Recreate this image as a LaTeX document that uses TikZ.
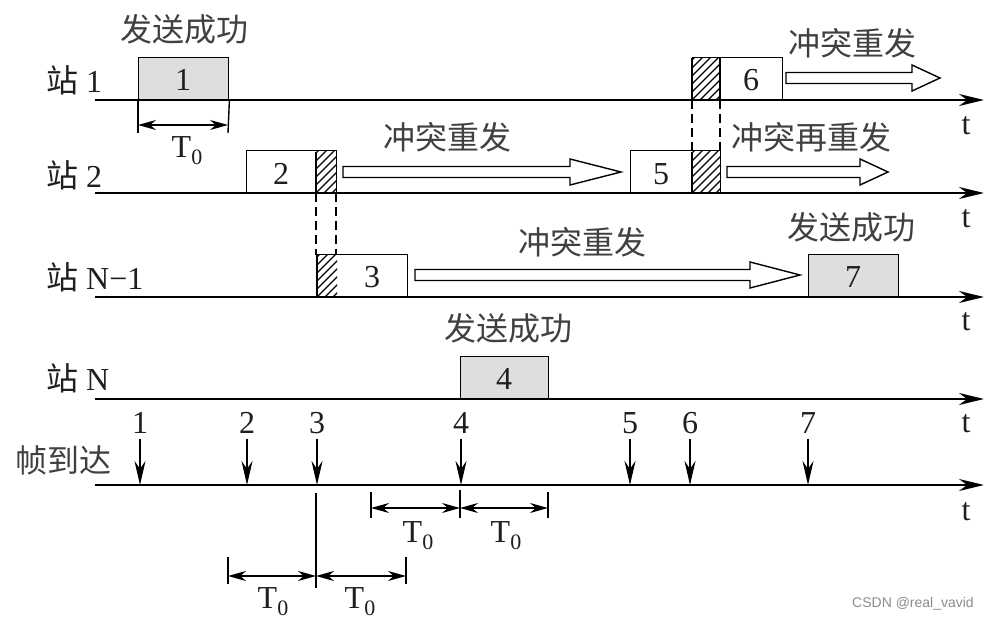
\documentclass[tikz,border=0pt]{standalone}
\usepackage{fontspec}
\setmainfont{Liberation Serif}
\newfontfamily\cjk{Noto Sans CJK SC}
\newfontfamily\wmfont{Liberation Sans}
\usetikzlibrary{arrows.meta}
\newcommand\latfs{\fontsize{32}{34}\selectfont}
\newcommand\cjkfs{\cjk\fontsize{32}{34}\selectfont}
\newcommand\Tz{T{\fontsize{22}{22}\selectfont\raisebox{-7pt}{0}}}
\newcommand\hatchpart[4]{%
  \begin{scope}
    \clip (#1,#3) rectangle (#2,#4);
    \foreach \k in {-48,-40,...,28} \draw[line width=1.2pt] (#1+\k,#4) -- (#1+\k+48,#4-48);
  \end{scope}
  \draw[line width=1.4pt] (#1,#3) -- (#1,#4);}
\newcommand\hollowarr[4]{%
  \draw[line width=1.4pt,fill=white,line join=miter] (#1,#3-5.5) -- (#2-#4,#3-5.5) -- (#2-#4,#3-13) -- (#2,#3) -- (#2-#4,#3+13) -- (#2-#4,#3+5.5) -- (#1,#3+5.5) -- cycle;}
\begin{document}
\begin{tikzpicture}[x=1pt,y=-1pt,
  axis/.style={line width=2.4pt,-{Stealth[length=25pt,width=12pt]}},
  framebox/.style={draw,line width=1.4pt,minimum width=90pt,minimum height=42pt,inner sep=0pt,anchor=south west},
  okbox/.style={framebox,fill=black!13},
  lat/.style={font=\latfs,text=black!88,inner sep=0pt},
  cjklab/.style={font=\cjkfs,text=black!75,inner sep=0pt},
  downarr/.style={line width=1.4pt,-{Stealth[length=24pt,width=11pt]}},
  dimarr/.style={line width=1.4pt,{Stealth[length=18pt,width=10pt]}-{Stealth[length=18pt,width=10pt]}},
  tick/.style={line width=1.4pt},
  dashline/.style={line width=1.4pt,dash pattern=on 9pt off 5pt}
]
\useasboundingbox (0,0) rectangle (994,620);
\fill[white] (0,0) rectangle (994,620);

% ---------- boxes ----------
\node[okbox] (b1) at (138,100) {};
\node[framebox] (b2) at (246,193) {};
\node[framebox] (b3) at (317,297) {};
\node[okbox,minimum width=88pt] (b4) at (460,399) {};
\node[framebox] (b5) at (630,193) {};
\node[framebox] (b6) at (692,100) {};
\node[okbox] (b7) at (808,297) {};

% hatched (collision) parts
\hatchpart{316}{336}{152}{193}
\hatchpart{317}{337}{255}{297}
\hatchpart{692}{720}{152}{193}
\hatchpart{692}{720}{58}{100}
\draw[line width=1.4pt] (720,58) -- (720,100);

% frame numbers
\node[lat] (n1) at (183,80) {1};
\node[lat] (n2) at (281,174) {2};
\node[lat] (n3) at (372,277) {3};
\node[lat] (n4) at (504,379) {4};
\node[lat] (n5) at (661,174) {5};
\node[lat] (n6) at (751,80) {6};
\node[lat] (n7) at (853,277) {7};

% dashed collision marks
\coordinate (d2a) at (316,193); \coordinate (d3a) at (316,255);
\coordinate (d2b) at (336,193); \coordinate (d3b) at (336,255);
\coordinate (d6a) at (692,100); \coordinate (d5a) at (692,152);
\coordinate (d6b) at (720,100); \coordinate (d5b) at (720,152);
\draw[dashline] (d2a) -- (d3a);
\draw[dashline] (d2b) -- (d3b);
\draw[dashline] (d6a) -- (d5a);
\draw[dashline] (d6b) -- (d5b);

% hollow arrows
\hollowarr{786}{940}{78}{28}
\hollowarr{343}{621}{172}{51}
\hollowarr{727}{888}{172}{28}
\hollowarr{415}{800}{275}{50}

% ---------- axes ----------
\coordinate (s1l) at (95,100); \coordinate (s1r) at (984,100);
\coordinate (s2l) at (95,193); \coordinate (s2r) at (984,193);
\coordinate (s3l) at (95,297); \coordinate (s3r) at (984,297);
\coordinate (s4l) at (95,399); \coordinate (s4r) at (984,399);
\coordinate (s5l) at (95,485); \coordinate (s5r) at (984,485);
\draw[axis] (s1l) -- (s1r);
\draw[axis] (s2l) -- (s2r);
\draw[axis] (s3l) -- (s3r);
\draw[axis] (s4l) -- (s4r);
\draw[axis] (s5l) -- (s5r);

% t labels
\node[lat] (t1) at (966,126) {t};
\node[lat] (t2) at (966,219) {t};
\node[lat] (t3) at (966,322) {t};
\node[lat] (t4) at (966,424) {t};
\node[lat] (t5) at (966,512) {t};

% station labels
\node[lat,anchor=west] (st1) at (46,80) {{\cjkfs 站} 1};
\node[lat,anchor=west] (st2) at (46,175) {{\cjkfs 站} 2};
\node[lat,anchor=west] (st3) at (46,277) {{\cjkfs 站} N−1};
\node[lat,anchor=west] (st4) at (46,378) {{\cjkfs 站} N};
\node[cjklab,anchor=west] (arr) at (15,460) {帧到达};

% annotations
\node[cjklab] (c1) at (184,29) {发送成功};
\node[cjklab] (c2) at (852,43) {冲突重发};
\node[cjklab] (c3) at (447,137) {冲突重发};
\node[cjklab] (c4) at (811,137) {冲突再重发};
\node[cjklab] (c5) at (582,242) {冲突重发};
\node[cjklab] (c6) at (851,227) {发送成功};
\node[cjklab] (c7) at (508,328) {发送成功};

% ---------- frame arrivals ----------
\foreach \i/\x in {1/140,2/247,3/317,4/461,5/630,6/690,7/808}{
  \node[lat] (l\i) at (\x,423) {\i};
  \coordinate (f\i) at (\x,485);
  \draw[downarr,shorten <=5pt] (l\i.south) -- (f\i);
}

% ---------- T0 for station 1 ----------
\coordinate (k1) at (138,133); \coordinate (k2) at (228,133);
\draw[tick] (b1.south west) -- (k1);
\draw[tick] (b1.south east) -- (k2);
\coordinate (a1) at (138,125); \coordinate (a2) at (228,125);
\draw[dimarr] (a1) -- (a2);
\node[lat] (T1) at (187,151) {\Tz};

% ---------- T0 around frame 4 ----------
\coordinate (u1t) at (371,492); \coordinate (u1b) at (371,518);
\coordinate (u2t) at (460,490); \coordinate (u2b) at (460,518);
\coordinate (u3t) at (548,492); \coordinate (u3b) at (548,518);
\draw[tick] (u1t) -- (u1b);
\draw[tick] (u2t) -- (u2b);
\draw[tick] (u3t) -- (u3b);
\coordinate (ua) at (371,508); \coordinate (ub) at (460,508); \coordinate (uc) at (548,508);
\draw[dimarr] (ua) -- (ub);
\draw[dimarr] (ub) -- (uc);
\node[lat] (T2) at (418,536) {\Tz};
\node[lat] (T3) at (506,536) {\Tz};

% ---------- T0 around frame 3 ----------
\coordinate (vt) at (316,493); \coordinate (vb) at (316,588);
\draw[tick] (vt) -- (vb);
\coordinate (w1t) at (228,557); \coordinate (w1b) at (228,584);
\coordinate (w3t) at (406,557); \coordinate (w3b) at (406,584);
\draw[tick] (w1t) -- (w1b);
\draw[tick] (w3t) -- (w3b);
\coordinate (wa) at (228,576); \coordinate (wb) at (316,576); \coordinate (wc) at (406,576);
\draw[dimarr] (wa) -- (wb);
\draw[dimarr] (wb) -- (wc);
\node[lat] (T4) at (273,602) {\Tz};
\node[lat] (T5) at (360,602) {\Tz};

% watermark
\node[font=\wmfont\fontsize{14}{14}\selectfont,text=black!45,inner sep=0pt] (wm) at (913,604) {CSDN @real\_vavid};
\end{tikzpicture}
\end{document}
